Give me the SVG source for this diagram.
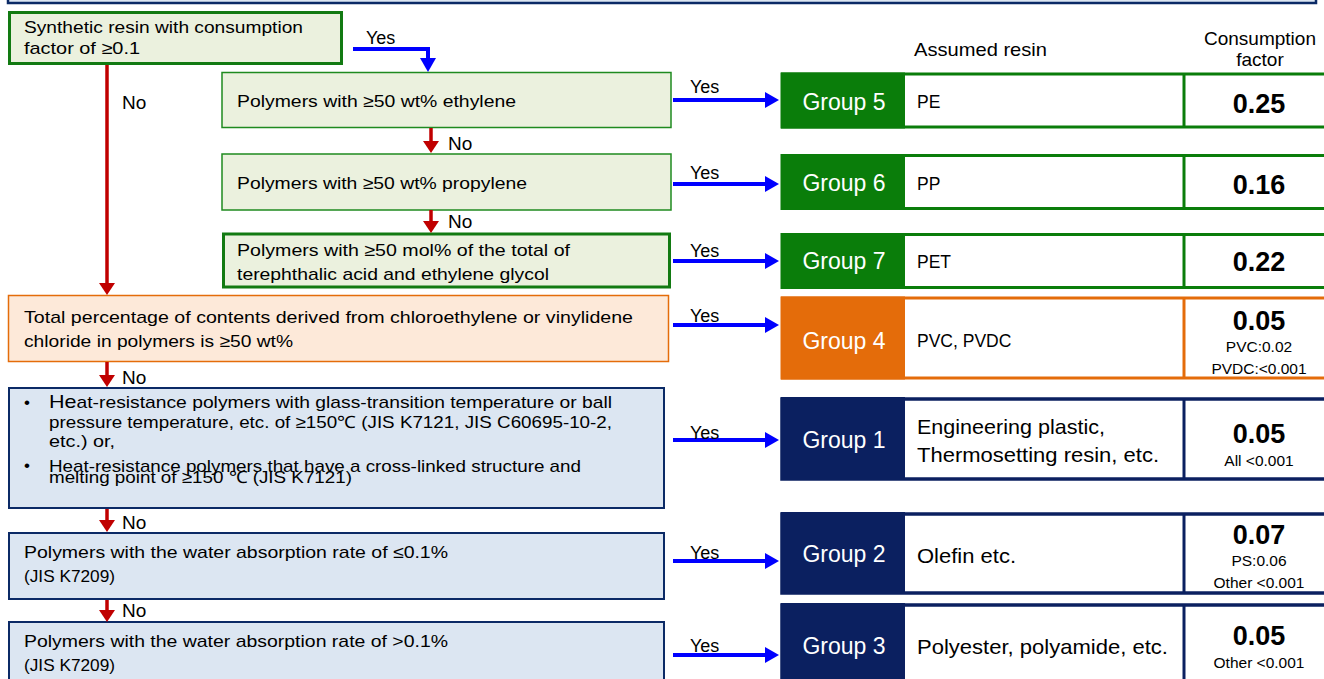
<svg xmlns="http://www.w3.org/2000/svg" width="1324" height="679" viewBox="0 0 1324 679">
<style>
text{font-family:"Liberation Sans",Arial,sans-serif;fill:#000}
.t{font-size:17px}
.g{font-size:23px;fill:#fff;text-anchor:middle}
.r{font-size:17.5px}
.r2{font-size:21px}
.cf{font-size:27px;font-weight:bold;text-anchor:middle}
.cs{font-size:15.5px;text-anchor:middle}
.hd{font-size:19px}
.yes{font-size:18px}
.no{font-size:19px}
.gbox{fill:#ebf1de;stroke:#1f8a1f;stroke-width:1.5}
.gboxT{fill:#ebf1de;stroke:#127a12;stroke-width:3}
.obox{fill:#fde9d9;stroke:#e46c0a;stroke-width:1.5}
.bbox{fill:#dce6f2;stroke:#0b2a66;stroke-width:2}
.blue{stroke:#0000ff;stroke-width:4;fill:none}
.red{stroke:#c00000;stroke-width:3.5;fill:none}
</style>
<defs>
<marker id="ab" markerUnits="userSpaceOnUse" markerWidth="14" markerHeight="16" refX="0" refY="8" orient="auto"><path d="M0,0 L14,8 L0,16 z" fill="#0000ff"/></marker>
<marker id="ar" markerUnits="userSpaceOnUse" markerWidth="12" markerHeight="16" refX="0" refY="8" orient="auto"><path d="M0,0 L12,8 L0,16 z" fill="#c00000"/></marker>
</defs>

<rect x="8" y="-20" width="1308" height="23" fill="#dce6f2" stroke="#0b2a66" stroke-width="2.5"/>

<g id="q1"><rect class="gboxT" x="9.5" y="12.5" width="332" height="51"/><text class="t" x="24" y="33" textLength="279" lengthAdjust="spacingAndGlyphs">Synthetic resin with consumption</text><text class="t" x="24" y="54" textLength="116" lengthAdjust="spacingAndGlyphs">factor of ≥0.1</text></g>
<g id="q2"><rect class="gbox" x="222" y="72.5" width="449" height="55"/><text class="t" x="237" y="107" textLength="279" lengthAdjust="spacingAndGlyphs">Polymers with ≥50 wt% ethylene</text></g>
<g id="q3"><rect class="gbox" x="222" y="154" width="449" height="56"/><text class="t" x="237" y="189" textLength="290" lengthAdjust="spacingAndGlyphs">Polymers with ≥50 wt% propylene</text></g>
<g id="q4"><rect class="gboxT" x="223.5" y="234" width="446" height="53"/><text class="t" x="237" y="256" textLength="333" lengthAdjust="spacingAndGlyphs">Polymers with ≥50 mol% of the total of</text><text class="t" x="237" y="280" textLength="312" lengthAdjust="spacingAndGlyphs">terephthalic acid and ethylene glycol</text></g>
<g id="q5"><rect class="obox" x="8.5" y="295.5" width="660" height="66"/><text class="t" x="24" y="323" textLength="609" lengthAdjust="spacingAndGlyphs">Total percentage of contents derived from chloroethylene or vinylidene</text><text class="t" x="24" y="347" textLength="269" lengthAdjust="spacingAndGlyphs">chloride in polymers is ≥50 wt%</text></g>
<g id="q6"><rect class="bbox" x="9" y="388" width="655" height="120"/>
<text class="t" x="24" y="408">•</text>
<text class="t" x="49" y="408" textLength="563" lengthAdjust="spacingAndGlyphs"><tspan font-size="19">He</tspan>at-resistance polymers with glass-transition temperature or ball</text>
<text class="t" x="49" y="428" textLength="563" lengthAdjust="spacingAndGlyphs">pressure temperature, etc. of ≥150℃  (JIS K7121, JIS C60695-10-2,</text>
<text class="t" x="49" y="447" textLength="66" lengthAdjust="spacingAndGlyphs">etc.) or,</text>
<text class="t" x="24" y="471">•</text>
<text class="t" x="49" y="472" textLength="532" lengthAdjust="spacingAndGlyphs">Heat-resistance polymers that have a cross-linked structure and</text>
<text class="t" x="49" y="483" textLength="303" lengthAdjust="spacingAndGlyphs">melting point of ≥150 ℃ (JIS K7121)</text></g>
<g id="q7"><rect class="bbox" x="9" y="533" width="655" height="66"/><text class="t" x="24" y="558" textLength="424" lengthAdjust="spacingAndGlyphs">Polymers with the water absorption rate of ≤0.1%</text><text class="t" x="24" y="582" textLength="91" lengthAdjust="spacingAndGlyphs">(JIS K7209)</text></g>
<g id="q8"><rect class="bbox" x="9" y="622" width="655" height="70"/><text class="t" x="24" y="647" textLength="424" lengthAdjust="spacingAndGlyphs">Polymers with the water absorption rate of &gt;0.1%</text><text class="t" x="24" y="671" textLength="91" lengthAdjust="spacingAndGlyphs">(JIS K7209)</text></g>

<g id="headers"><text class="hd" x="914" y="56" textLength="133" lengthAdjust="spacingAndGlyphs">Assumed resin</text><text class="hd" x="1260" y="45" text-anchor="middle">Consumption</text><text class="hd" x="1260" y="66" text-anchor="middle">factor</text></g>

<g id="group5"><rect x="782" y="74" width="560" height="53" fill="#fff" stroke="#0a7d0a" stroke-width="3"/><rect x="781" y="72.5" width="124" height="56" fill="#0a7d0a"/><line x1="1184" y1="74" x2="1184" y2="127" stroke="#0a7d0a" stroke-width="3"/>
<text class="g" x="844" y="110">Group 5</text><text class="r" x="917" y="108">PE</text><text class="cf" x="1259" y="113">0.25</text></g>
<g id="group6"><rect x="782" y="155.5" width="560" height="53" fill="#fff" stroke="#0a7d0a" stroke-width="3"/><rect x="781" y="154" width="124" height="56" fill="#0a7d0a"/><line x1="1184" y1="155" x2="1184" y2="209" stroke="#0a7d0a" stroke-width="3"/>
<text class="g" x="844" y="191">Group 6</text><text class="r" x="917" y="190">PP</text><text class="cf" x="1259" y="194">0.16</text></g>
<g id="group7"><rect x="782" y="234.5" width="560" height="53" fill="#fff" stroke="#0a7d0a" stroke-width="3"/><rect x="781" y="233" width="124" height="56" fill="#0a7d0a"/><line x1="1184" y1="234" x2="1184" y2="288" stroke="#0a7d0a" stroke-width="3"/>
<text class="g" x="844" y="269">Group 7</text><text class="r" x="917" y="268">PET</text><text class="cf" x="1259" y="271">0.22</text></g>
<g id="group4"><rect x="782" y="298" width="560" height="80" fill="#fff" stroke="#e46c0a" stroke-width="3"/><rect x="781" y="296.5" width="124" height="83" fill="#e46c0a"/><line x1="1184" y1="298" x2="1184" y2="378" stroke="#e46c0a" stroke-width="3"/>
<text class="g" x="844" y="349">Group 4</text><text class="r" x="917" y="347" font-size="20">PVC, PVDC</text><text class="cf" x="1259" y="330">0.05</text><text class="cs" x="1259" y="352">PVC:0.02</text><text class="cs" x="1259" y="374">PVDC:&lt;0.001</text></g>
<g id="group1"><rect x="782" y="399" width="560" height="80" fill="#fff" stroke="#0b2060" stroke-width="3.5"/><rect x="781" y="397" width="124" height="83" fill="#0b2060"/><line x1="1184" y1="399" x2="1184" y2="479" stroke="#0b2060" stroke-width="3"/>
<text class="g" x="844" y="448">Group 1</text><text class="r2" x="917" y="434" textLength="188" lengthAdjust="spacingAndGlyphs">Engineering plastic,</text><text class="r2" x="917" y="462" textLength="242" lengthAdjust="spacingAndGlyphs">Thermosetting resin, etc.</text><text class="cf" x="1259" y="443">0.05</text><text class="cs" x="1259" y="466">All &lt;0.001</text></g>
<g id="group2"><rect x="782" y="514" width="560" height="79" fill="#fff" stroke="#0b2060" stroke-width="3.5"/><rect x="781" y="512" width="124" height="82" fill="#0b2060"/><line x1="1184" y1="514" x2="1184" y2="593" stroke="#0b2060" stroke-width="3"/>
<text class="g" x="844" y="562">Group 2</text><text class="r2" x="917" y="563" textLength="99" lengthAdjust="spacingAndGlyphs">Olefin etc.</text><text class="cf" x="1259" y="544">0.07</text><text class="cs" x="1259" y="566">PS:0.06</text><text class="cs" x="1259" y="588">Other &lt;0.001</text></g>
<g id="group3"><rect x="782" y="605" width="560" height="90" fill="#fff" stroke="#0b2060" stroke-width="3.5"/><rect x="781" y="603" width="124" height="90" fill="#0b2060"/><line x1="1184" y1="605" x2="1184" y2="690" stroke="#0b2060" stroke-width="3"/>
<text class="g" x="844" y="654">Group 3</text><text class="r2" x="917" y="654" textLength="251" lengthAdjust="spacingAndGlyphs">Polyester, polyamide,  etc.</text><text class="cf" x="1259" y="645">0.05</text><text class="cs" x="1259" y="668">Other &lt;0.001</text></g>

<g id="connectors">
<polyline class="blue" points="353,49 428,49 428,58" marker-end="url(#ab)"/>
<line class="blue" x1="673" y1="100" x2="765" y2="100" marker-end="url(#ab)"/>
<line class="blue" x1="673" y1="184" x2="765" y2="184" marker-end="url(#ab)"/>
<line class="blue" x1="673" y1="261" x2="765" y2="261" marker-end="url(#ab)"/>
<line class="blue" x1="673" y1="325" x2="765" y2="325" marker-end="url(#ab)"/>
<line class="blue" x1="673" y1="440" x2="765" y2="440" marker-end="url(#ab)"/>
<line class="blue" x1="673" y1="561" x2="765" y2="561" marker-end="url(#ab)"/>
<line class="blue" x1="673" y1="655" x2="765" y2="655" marker-end="url(#ab)"/>
<line class="red" x1="107" y1="65" x2="107" y2="283" marker-end="url(#ar)"/>
<line class="red" x1="431" y1="128" x2="431" y2="141" marker-end="url(#ar)"/>
<line class="red" x1="431" y1="210" x2="431" y2="221" marker-end="url(#ar)"/>
<line class="red" x1="107" y1="362" x2="107" y2="375" marker-end="url(#ar)"/>
<line class="red" x1="107" y1="509" x2="107" y2="520" marker-end="url(#ar)"/>
<line class="red" x1="107" y1="600" x2="107" y2="610" marker-end="url(#ar)"/>
<text class="yes" x="366" y="44">Yes</text>
<text class="yes" x="690" y="93">Yes</text>
<text class="yes" x="690" y="179">Yes</text>
<text class="yes" x="690" y="257">Yes</text>
<text class="yes" x="690" y="322">Yes</text>
<text class="yes" x="690" y="439">Yes</text>
<text class="yes" x="690" y="559">Yes</text>
<text class="yes" x="690" y="652">Yes</text>
<text class="no" x="122" y="109">No</text>
<text class="no" x="448" y="150">No</text>
<text class="no" x="448" y="228">No</text>
<text class="no" x="122" y="384">No</text>
<text class="no" x="122" y="529">No</text>
<text class="no" x="122" y="617">No</text>
</g>
</svg>
